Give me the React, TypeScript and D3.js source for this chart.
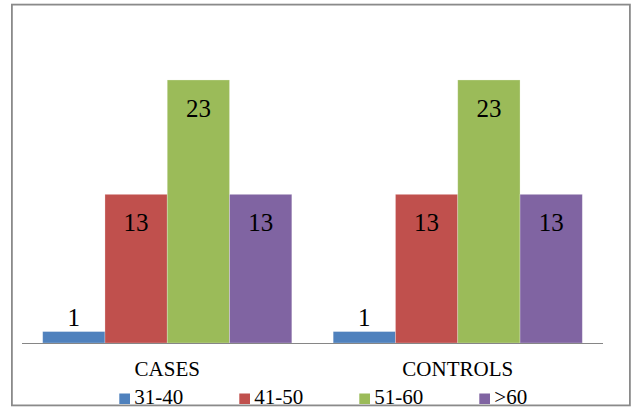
import React from "react";
import * as d3 from "d3";

const categories = ["CASES", "CONTROLS"];
const seriesNames = ["31-40", "41-50", "51-60", ">60"];
const seriesColors = ["#4F81BD", "#C0504D", "#9BBB59", "#8064A2"];
const casesValues = [1, 13, 23, 13];
const controlsValues = [1, 13, 23, 13];
const valuesByCategory = [casesValues, controlsValues];

const W = 633;
const H = 407;
const FONT = "Liberation Serif";

export default function App() {
  const plotLeft = 22;
  const plotRight = 603;
  const baseY = 343;
  const topY = 57.1;

  const x = d3.scaleBand<string>().domain(categories).range([plotLeft, plotRight]).padding(0);
  const bw = x.bandwidth();
  const gap = bw * 0.0712;
  const xi = d3.scaleBand<string>().domain(seriesNames).range([gap, bw - gap]).padding(0);
  const y = d3.scaleLinear().domain([0, 25]).range([baseY, topY]);

  return (
    <div style={{ position: "absolute", left: 0, top: 0, width: W, height: H, fontFamily: FONT }}>
      <svg width={W} height={H} style={{ display: "block", fontFamily: FONT }}>
        <rect x={0} y={0} width={W} height={H} fill="#fff" />
        {categories.map((c, ci) =>
          seriesNames.map((s, si) => {
            const v = valuesByCategory[ci][si];
            const bx = (x(c) as number) + (xi(s) as number);
            const by = y(v);
            const w = xi.bandwidth();
            const h = baseY - by;
            const inside = h > 40;
            return (
              <g key={c + s}>
                <rect x={bx} y={by} width={w} height={h} fill={seriesColors[si]} stroke="rgba(255,255,255,0.35)" strokeWidth={0.75} />
                <text
                  x={bx + w / 2}
                  y={inside ? by + 37 : by - 6}
                  textAnchor="middle"
                  fontSize={25}
                  fill="#000"
                  style={{ fontFamily: FONT }}
                >
                  {v}
                </text>
              </g>
            );
          })
        )}
        <line x1={plotLeft} x2={plotRight} y1={baseY + 0.5} y2={baseY + 0.5} stroke="#868686" strokeWidth={1} />
        {categories.map((c) => (
          <text key={c} x={(x(c) as number) + bw / 2} y={375.5} textAnchor="middle" fontSize={21} fill="#000" style={{ fontFamily: FONT }}>
            {c}
          </text>
        ))}
        {seriesNames.map((s, i) => {
          const lx = 119.3 + i * 120;
          return (
            <g key={s}>
              <rect x={lx} y={393.5} width={10.7} height={10.5} fill={seriesColors[i]} />
              <text x={lx + 15} y={403.5} fontSize={21} fill="#000" style={{ fontFamily: FONT }}>
                {s}
              </text>
            </g>
          );
        })}
        <rect x={11.9} y={4.6} width={618} height={400.8} fill="none" stroke="#8a8a8a" strokeWidth={1.8} />
      </svg>
    </div>
  );
}
